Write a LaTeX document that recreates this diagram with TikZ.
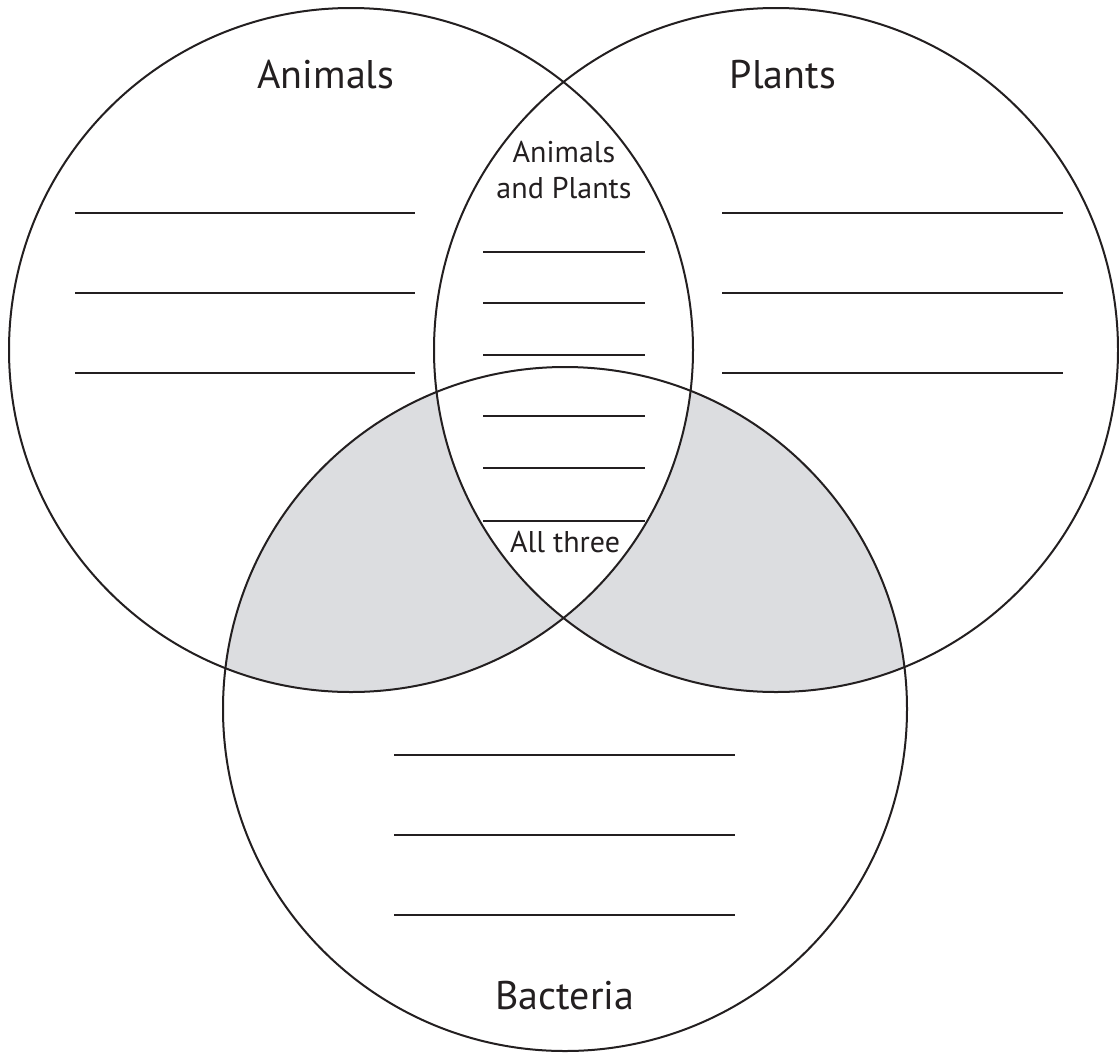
\documentclass[tikz,border=0pt]{standalone}
\usepackage{fontspec}
\setmainfont{PT Sans}
\definecolor{ink}{RGB}{35,31,32}
\definecolor{regiongray}{RGB}{220,221,224}
\begin{document}
\begin{tikzpicture}[x=1pt,y=-1pt,
  ring/.style={draw=ink,line width=2pt},
  blank/.style={draw=ink,line width=1.8pt},
  title/.style={text=ink,font=\fontsize{40}{46}\selectfont,inner sep=0pt,anchor=base},
  small/.style={text=ink,font=\fontsize{30}{36}\selectfont,inner sep=0pt,anchor=base}]
\useasboundingbox[fill=white] (0,0) rectangle (1119,1053);
\coordinate (cA) at (351,350);
\coordinate (cP) at (776,350);
\coordinate (cB) at (565,709);
% shaded regions
\begin{scope}
  \clip (cB) circle[radius=342pt];
  \fill[fill=regiongray] (cA) circle[radius=342pt];
  \fill[fill=regiongray] (cP) circle[radius=342pt];
\end{scope}
\begin{scope}
  \clip (cA) circle[radius=342pt];
  \clip (cP) circle[radius=342pt];
  \fill[fill=white] (cB) circle[radius=342pt];
\end{scope}
% circles
\draw[ring] (cA) circle[radius=342pt];
\draw[ring] (cP) circle[radius=342pt];
\draw[ring] (cB) circle[radius=342pt];
% blank lines left
\foreach \y in {213,293,373} {\draw[blank] (75,\y) -- (415,\y);}
% blank lines right
\foreach \y in {213,293,373} {\draw[blank] (722,\y) -- (1063,\y);}
% middle
\foreach \y in {252,303,355,416,468,521} {\draw[blank] (483,\y) -- (645,\y);}
% bottom
\foreach \y in {755,835,915} {\draw[blank] (394,\y) -- (735,\y);}
% labels
\node[title] (tA) at (326,88) {Animals};
\node[title] (tP) at (783,88) {Plants};
\node[title] (tB) at (565,1009) {Bacteria};
\node[small] (tAP1) at (564,162) {Animals};
\node[small] (tAP2) at (564,198) {and Plants};
\node[small] (t3) at (565,552) {All three};
\end{tikzpicture}
\end{document}
